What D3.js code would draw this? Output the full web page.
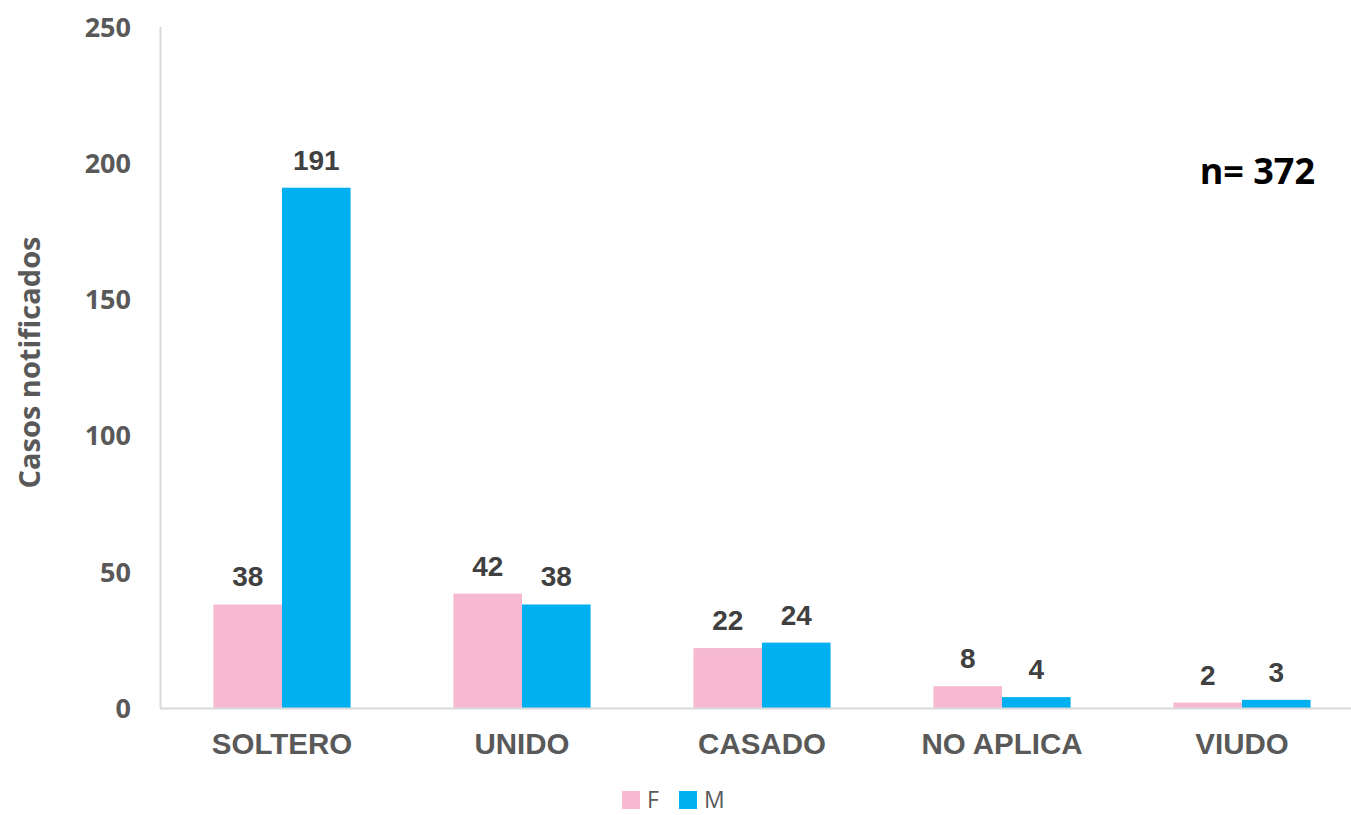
<!DOCTYPE html>
<html>
<head>
<meta charset="utf-8">
<script src="https://cdn.jsdelivr.net/npm/d3@7"></script>
<style>
  body { margin: 0; background: #fff; }
  svg { display: block; }
</style>
</head>
<body>
<div id="chart"></div>
<script>
// datos del gráfico
var categories = ["SOLTERO", "UNIDO", "CASADO", "NO APLICA", "VIUDO"];
var seriesNames = ["F", "M"];
var valuesF = [38, 42, 22, 8, 2];
var valuesM = [191, 38, 24, 4, 3];
var yTicks = [0, 50, 100, 150, 200, 250];
var colors = { F: "#F7B9D1", M: "#00B0F0" };

var width = 1351, height = 815;
var margin = { left: 162, right: -11, top: 27, bottom: 107 };

var svg = d3.select("#chart").append("svg")
  .attr("width", width)
  .attr("height", height);

var x0 = d3.scaleBand()
  .domain(categories)
  .range([margin.left, width - margin.right])
  .padding(0);

var x1 = d3.scaleBand()
  .domain(seriesNames)
  .range([0, x0.bandwidth()])
  .paddingInner(0)
  .paddingOuter(0.75);

var y = d3.scaleLinear()
  .domain([0, 250])
  .range([height - margin.bottom, margin.top]);

var rows = categories.map(function(c, i) {
  return { cat: c, F: valuesF[i], M: valuesM[i] };
});

// ejes
svg.append("line")
  .attr("x1", 160.5).attr("x2", 160.5)
  .attr("y1", y(250)).attr("y2", y(0))
  .attr("stroke", "#d9d9d9").attr("stroke-width", 2);

svg.selectAll(".ytick")
  .data(yTicks)
  .enter()
  .append("text")
  .attr("class", "ytick")
  .attr("x", 131)
  .attr("y", function(d) { return y(d); })
  .attr("dy", "0.36em")
  .attr("text-anchor", "end")
  .attr("font-family", "'Open Sans', sans-serif")
  .attr("font-weight", "bold")
  .attr("font-size", 27)
  .attr("fill", "#595959")
  .text(function(d) { return d; });

svg.append("text")
  .attr("transform", "translate(40," + ((y(0) + y(250)) / 2 - 5) + ") rotate(-90)")
  .attr("text-anchor", "middle")
  .attr("font-family", "'Open Sans', sans-serif")
  .attr("font-weight", "bold")
  .attr("font-size", 29)
  .attr("fill", "#595959")
  .text("Casos notificados");

// barras
var groups = svg.selectAll(".grp")
  .data(rows)
  .enter()
  .append("g")
  .attr("class", "grp")
  .attr("transform", function(d) { return "translate(" + x0(d.cat) + ",0)"; });

groups.selectAll("rect")
  .data(function(d) { return seriesNames.map(function(s) { return { key: s, value: d[s] }; }); })
  .enter()
  .append("rect")
  .attr("x", function(d) { return x1(d.key); })
  .attr("y", function(d) { return y(d.value); })
  .attr("width", x1.bandwidth())
  .attr("height", function(d) { return y(0) - y(d.value); })
  .attr("fill", function(d) { return colors[d.key]; });

groups.selectAll(".lbl")
  .data(function(d) { return seriesNames.map(function(s) { return { key: s, value: d[s] }; }); })
  .enter()
  .append("text")
  .attr("class", "lbl")
  .attr("x", function(d) { return x1(d.key) + x1.bandwidth() / 2; })
  .attr("y", function(d) { return y(d.value) - 18; })
  .attr("text-anchor", "middle")
  .attr("font-family", "'Liberation Sans', Arial, sans-serif")
  .attr("font-weight", "bold")
  .attr("font-size", 28)
  .attr("fill", "#404040")
  .text(function(d) { return d.value; });

// eje x
svg.append("line")
  .attr("x1", 160).attr("x2", width)
  .attr("y1", y(0) + 0.5).attr("y2", y(0) + 0.5)
  .attr("stroke", "#d9d9d9").attr("stroke-width", 2);

svg.selectAll(".xtick")
  .data(categories)
  .enter()
  .append("text")
  .attr("class", "xtick")
  .attr("x", function(d) { return x0(d) + x0.bandwidth() / 2; })
  .attr("y", 754)
  .attr("text-anchor", "middle")
  .attr("font-family", "'Liberation Sans', Arial, sans-serif")
  .attr("font-weight", "bold")
  .attr("font-size", 29.5)
  .attr("fill", "#595959")
  .text(function(d) { return d; });

// leyenda
var legendX = [622, 679];
var legend = svg.selectAll(".leg")
  .data(seriesNames)
  .enter()
  .append("g")
  .attr("class", "leg")
  .attr("transform", function(d, i) { return "translate(" + legendX[i] + ",791)"; });

legend.append("rect")
  .attr("width", 18).attr("height", 18)
  .attr("fill", function(d) { return colors[d]; });

legend.append("text")
  .attr("x", 25)
  .attr("y", 17)
  .attr("font-family", "'Open Sans', sans-serif")
  .attr("font-size", 23)
  .attr("fill", "#595959")
  .text(function(d) { return d; });

// total
svg.append("text")
  .attr("x", 1315)
  .attr("y", 184)
  .attr("text-anchor", "end")
  .attr("font-family", "'Open Sans', sans-serif")
  .attr("font-weight", "bold")
  .attr("font-size", 36)
  .attr("fill", "#000")
  .text("n= 372");
</script>
</body>
</html>
